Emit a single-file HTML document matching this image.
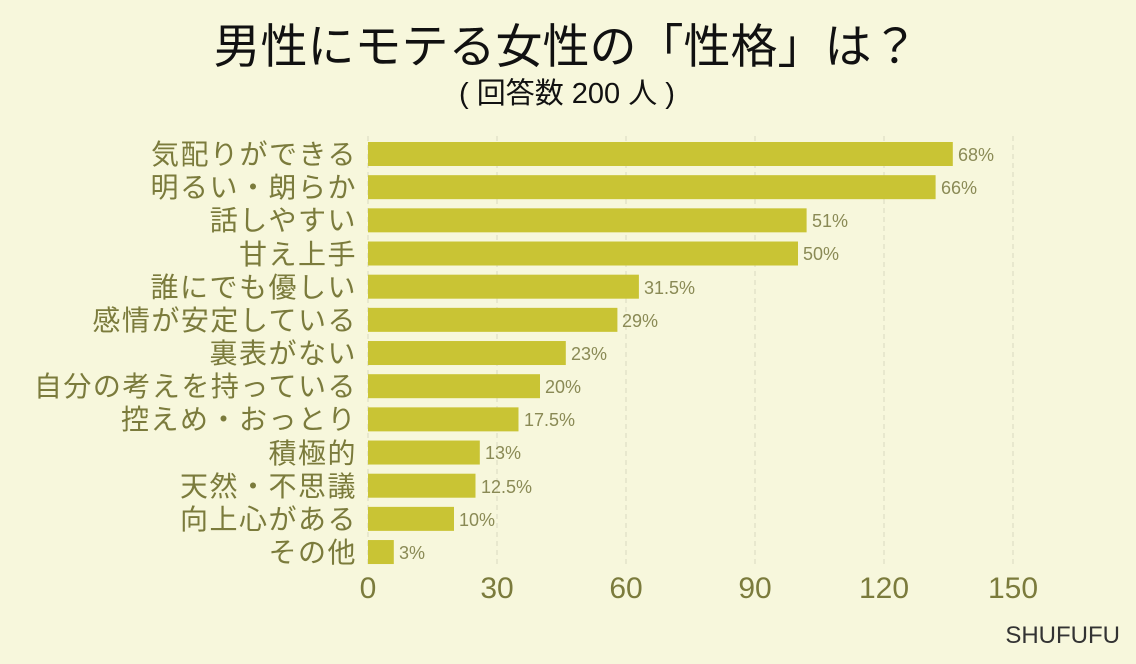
<!DOCTYPE html>
<html><head><meta charset="utf-8"><style>
html,body{margin:0;padding:0;background:#f7f7dc;}
svg{display:block;font-family:"Liberation Sans","Noto Sans CJK JP",sans-serif;}
</style></head><body>
<svg width="1136" height="664" viewBox="0 0 1136 664">
<rect width="1136" height="664" fill="#f7f7dc"/>
<text x="566" y="63" font-size="47" text-anchor="middle" fill="#111">男性にモテる女性の「性格」は？</text>
<text x="567" y="103" font-size="29" text-anchor="middle" fill="#111">( 回答数 200 人 )</text>
<g stroke="#d9d9bf" stroke-width="1" stroke-dasharray="5,4">
<line x1="368" y1="136" x2="368" y2="567"/>
<line x1="497" y1="136" x2="497" y2="567"/>
<line x1="626" y1="136" x2="626" y2="567"/>
<line x1="755" y1="136" x2="755" y2="567"/>
<line x1="884" y1="136" x2="884" y2="567"/>
<line x1="1013" y1="136" x2="1013" y2="567"/>
</g>
<g fill="#c9c434">
<rect x="368" y="142" width="584.8" height="24"/>
<rect x="368" y="175.17" width="567.6" height="24"/>
<rect x="368" y="208.34" width="438.6" height="24"/>
<rect x="368" y="241.51" width="430" height="24"/>
<rect x="368" y="274.68" width="270.9" height="24"/>
<rect x="368" y="307.85" width="249.4" height="24"/>
<rect x="368" y="341.02" width="197.8" height="24"/>
<rect x="368" y="374.19" width="172" height="24"/>
<rect x="368" y="407.36" width="150.5" height="24"/>
<rect x="368" y="440.53" width="111.8" height="24"/>
<rect x="368" y="473.7" width="107.5" height="24"/>
<rect x="368" y="506.87" width="86" height="24"/>
<rect x="368" y="540.04" width="25.8" height="24"/>
</g>
<g font-size="28" letter-spacing="1.5" text-anchor="end" fill="#7b7b3c">
<text x="357" y="164">気配りができる</text>
<text x="357" y="197">明るい・朗らか</text>
<text x="357" y="230">話しやすい</text>
<text x="357" y="264">甘え上手</text>
<text x="357" y="297">誰にでも優しい</text>
<text x="357" y="330">感情が安定している</text>
<text x="357" y="363">裏表がない</text>
<text x="357" y="396">自分の考えを持っている</text>
<text x="357" y="429">控えめ・おっとり</text>
<text x="357" y="463">積極的</text>
<text x="357" y="496">天然・不思議</text>
<text x="357" y="529">向上心がある</text>
<text x="357" y="562">その他</text>
</g>
<g font-size="18" fill="#8a8a55">
<text x="958" y="161">68%</text>
<text x="941" y="194">66%</text>
<text x="812" y="227">51%</text>
<text x="803" y="260">50%</text>
<text x="644" y="294">31.5%</text>
<text x="622" y="327">29%</text>
<text x="571" y="360">23%</text>
<text x="545" y="393">20%</text>
<text x="524" y="426">17.5%</text>
<text x="485" y="459">13%</text>
<text x="481" y="493">12.5%</text>
<text x="459" y="526">10%</text>
<text x="399" y="559">3%</text>
</g>
<g font-size="30" fill="#7b7b3c" text-anchor="middle">
<text x="368" y="598">0</text><text x="497" y="598">30</text><text x="626" y="598">60</text>
<text x="755" y="598">90</text><text x="884" y="598">120</text><text x="1013" y="598">150</text>
</g>
<text x="1120" y="643" font-size="24" text-anchor="end" fill="#333">SHUFUFU</text>
</svg>
</body></html>
